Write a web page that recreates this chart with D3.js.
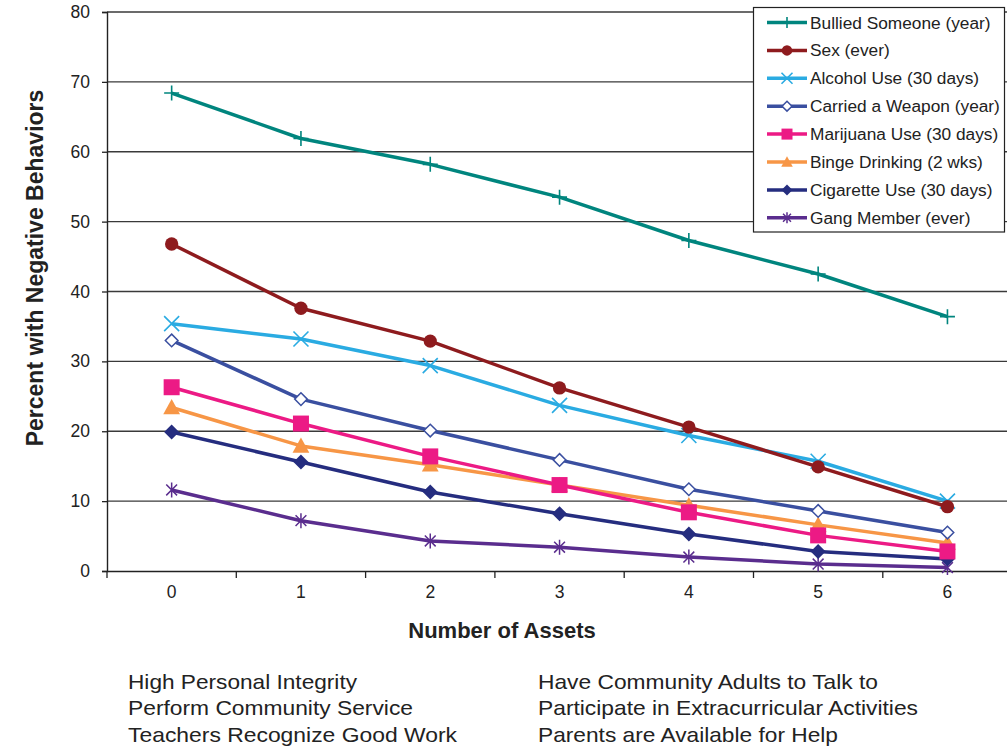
<!DOCTYPE html>
<html>
<head>
<meta charset="utf-8">
<script src="https://cdn.jsdelivr.net/npm/d3@7"></script>
<style>
  html, body { margin: 0; padding: 0; background: #fff; }
  svg { display: block; font-family: "Liberation Sans", Arial, Helvetica, sans-serif; }
</style>
</head>
<body>
<svg id="chart" width="1007" height="750"></svg>
<script>
// ---- data ----
const assets = [0, 1, 2, 3, 4, 5, 6];
const yTicks = [0, 10, 20, 30, 40, 50, 60, 70, 80];
const seriesNames = [
  "Bullied Someone (year)", "Sex (ever)", "Alcohol Use (30 days)", "Carried a Weapon (year)",
  "Marijuana Use (30 days)", "Binge Drinking (2 wks)", "Cigarette Use (30 days)", "Gang Member (ever)"
];
const bullied   = [68.4, 61.9, 58.2, 53.5, 47.3, 42.5, 36.4];
const sex       = [46.8, 37.6, 32.9, 26.2, 20.6, 14.9, 9.2];
const alcohol   = [35.4, 33.2, 29.4, 23.7, 19.4, 15.7, 10.0];
const weapon    = [33.0, 24.6, 20.1, 15.9, 11.7, 8.6, 5.5];
const marijuana = [26.3, 21.1, 16.4, 12.3, 8.4, 5.1, 2.8];
const binge     = [23.4, 17.9, 15.2, 12.3, 9.4, 6.6, 4.0];
const cigarette = [19.9, 15.6, 11.3, 8.2, 5.3, 2.8, 1.7];
const gang      = [11.6, 7.2, 4.3, 3.4, 2.0, 1.0, 0.5];
const seriesValues = [bullied, sex, alcohol, weapon, marijuana, binge, cigarette, gang];
const assetLabelsLeft = ["High Personal Integrity", "Perform Community Service", "Teachers Recognize Good Work"];
const assetLabelsRight = ["Have Community Adults to Talk to", "Participate in Extracurricular Activities", "Parents are Available for Help"];
const xTitle = "Number of Assets";
const yTitle = "Percent with Negative Behaviors";

// ---- styles ----
const colors = ["#00857e", "#8e1b1e", "#2aabe2", "#3a4fa0", "#ec1a85", "#f79646", "#252d7f", "#5a2d8e"];
const markers = ["plus", "circle", "cross", "diamondOpen", "square", "triangle", "diamond", "asterisk"];

const svg = d3.select("#chart");
const plotLeft = 107, plotTop = 12, plotBottom = 571, step = 129.3;

const x = d3.scaleBand().domain(assets).range([plotLeft, plotLeft + step * assets.length]).padding(0);
const y = d3.scaleLinear().domain([0, 80]).range([plotBottom, plotTop]);

// gridlines
svg.append("g").selectAll("line").data(yTicks.filter(d => d > 0)).join("line")
  .attr("x1", plotLeft).attr("x2", 1007)
  .attr("y1", d => y(d)).attr("y2", d => y(d))
  .attr("stroke", "#3a3a3a").attr("stroke-width", 1.3);

// y axis
const yAxis = svg.append("g").attr("transform", `translate(${plotLeft},0)`)
  .call(d3.axisLeft(y).tickValues(yTicks).tickSize(5).tickPadding(12).tickFormat(d3.format("d")));
yAxis.select(".domain").attr("stroke", "#222").attr("stroke-width", 1.4);
yAxis.selectAll(".tick line").attr("stroke", "#222").attr("stroke-width", 1.3);
yAxis.selectAll("text").attr("font-size", 17.5).attr("fill", "#222")
  .attr("font-family", "'Liberation Sans', Arial, sans-serif");

// x axis
const xAxis = svg.append("g").attr("transform", `translate(0,${plotBottom})`)
  .call(d3.axisBottom(x).tickSize(0).tickPadding(15));
xAxis.select(".domain").attr("stroke", "#222").attr("stroke-width", 1.4);
xAxis.selectAll("text").attr("font-size", 17.5).attr("fill", "#222")
  .attr("font-family", "'Liberation Sans', Arial, sans-serif");
// boundary ticks
svg.append("g").selectAll("line").data(assets).join("line")
  .attr("x1", d => x(d)).attr("x2", d => x(d))
  .attr("y1", plotBottom).attr("y2", plotBottom + 7)
  .attr("stroke", "#222").attr("stroke-width", 1.3);

// marker drawing
function drawMarker(g, type, color, s) {
  const h = s / 2;
  switch (type) {
    case "plus":
      g.append("path").attr("d", `M${-h},0H${h}M0,${-h}V${h}`).attr("stroke", color).attr("stroke-width", 1.6).attr("fill", "none");
      break;
    case "cross":
      g.append("path").attr("d", `M${-h},${-h}L${h},${h}M${-h},${h}L${h},${-h}`).attr("stroke", color).attr("stroke-width", 1.6).attr("fill", "none");
      break;
    case "asterisk": {
      const a = h * 0.72;
      g.append("path").attr("d", `M${-a},${-a}L${a},${a}M${-a},${a}L${a},${-a}M0,${-h}V${h}`).attr("stroke", color).attr("stroke-width", 1.5).attr("fill", "none");
      break;
    }
    case "circle":
      g.append("circle").attr("r", h * 0.95).attr("fill", color);
      break;
    case "square":
      g.append("rect").attr("x", -h).attr("y", -h).attr("width", s).attr("height", s).attr("fill", color);
      break;
    case "triangle":
      g.append("path").attr("d", `M0,${-h * 1.05}L${h * 1.05},${h * 0.85}L${-h * 1.05},${h * 0.85}Z`).attr("fill", color);
      break;
    case "diamond":
      g.append("path").attr("d", `M0,${-h}L${h},0L0,${h}L${-h},0Z`).attr("fill", color);
      break;
    case "diamondOpen":
      g.append("path").attr("d", `M0,${-h * 0.9}L${h * 0.9},0L0,${h * 0.9}L${-h * 0.9},0Z`).attr("fill", "#fff").attr("stroke", color).attr("stroke-width", 1.5);
      break;
  }
}

const markerSize = [15, 14, 15, 14, 16, 16, 15, 15];
const line = d3.line().x((d, i) => x(assets[i]) + x.bandwidth() / 2).y(d => y(d));

for (let k = seriesValues.length - 1; k >= 0; k--) {
  const g = svg.append("g");
  g.append("path").datum(seriesValues[k]).attr("d", line)
    .attr("fill", "none").attr("stroke", colors[k]).attr("stroke-width", 3.5)
    .attr("stroke-linejoin", "round");
  seriesValues[k].forEach((v, i) => {
    const mg = g.append("g").attr("transform", `translate(${x(assets[i]) + x.bandwidth() / 2},${y(v)})`);
    drawMarker(mg, markers[k], colors[k], markerSize[k]);
  });
}

// legend
const lg = svg.append("g");
lg.append("rect").attr("x", 753.5).attr("y", 7.5).attr("width", 251).attr("height", 224.5)
  .attr("fill", "#fff").attr("stroke", "#222").attr("stroke-width", 1.2);
seriesNames.forEach((name, k) => {
  const yy = 22.5 + k * 27.9;
  const row = lg.append("g").attr("transform", `translate(0,${yy})`);
  row.append("line").attr("x1", 767).attr("x2", 807).attr("y1", 0).attr("y2", 0)
    .attr("stroke", colors[k]).attr("stroke-width", 3.5);
  const mg = row.append("g").attr("transform", "translate(787,0)");
  drawMarker(mg, markers[k], colors[k], 11);
  row.append("text").attr("x", 810).attr("y", 6).attr("font-size", 17.3).attr("fill", "#222").text(name);
});

// axis titles
svg.append("text").attr("x", 502).attr("y", 638).attr("text-anchor", "middle")
  .attr("font-size", 22).attr("font-weight", "bold").attr("fill", "#222").text(xTitle);
svg.append("text").attr("transform", "translate(43,268) rotate(-90)").attr("text-anchor", "middle")
  .attr("font-size", 23).attr("font-weight", "bold").attr("fill", "#222").text(yTitle);

// asset labels
const leftLens = [229, 285, 329];
const rightLens = [340, 380, 300];
assetLabelsLeft.forEach((t, i) => {
  svg.append("text").attr("x", 128).attr("y", 689 + i * 26.3).attr("font-size", 21).attr("fill", "#222")
    .attr("textLength", leftLens[i]).attr("lengthAdjust", "spacingAndGlyphs").text(t);
});
assetLabelsRight.forEach((t, i) => {
  svg.append("text").attr("x", 538).attr("y", 689 + i * 26.3).attr("font-size", 21).attr("fill", "#222")
    .attr("textLength", rightLens[i]).attr("lengthAdjust", "spacingAndGlyphs").text(t);
});
</script>
</body>
</html>
